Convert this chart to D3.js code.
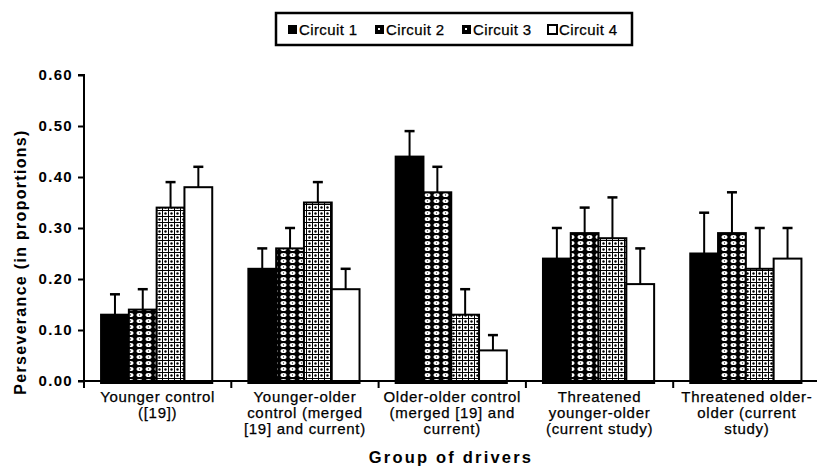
<!DOCTYPE html>
<html><head><meta charset="utf-8">
<script src="https://cdn.jsdelivr.net/npm/d3@7"></script>
<style>html,body{margin:0;padding:0;background:#fff;}svg{display:block;font-family:"Liberation Sans",Arial,sans-serif;}</style>
</head><body>
<script>
const categories = ["Younger control ([19])","Younger-older control (merged [19] and current)","Older-older control (merged [19] and current)","Threatened younger-older (current study)","Threatened older-older (current study)"];
const categoryLines = [["Younger control","([19])"],["Younger-older","control (merged","[19] and current)"],["Older-older control","(merged [19] and","current)"],["Threatened","younger-older","(current study)"],["Threatened older-","older (current","study)"]];
const seriesNames = ["Circuit 1","Circuit 2","Circuit 3","Circuit 4"];
const circuit1 = [0.13,0.22,0.44,0.24,0.25];
const circuit2 = [0.14,0.26,0.37,0.29,0.29];
const circuit3 = [0.34,0.35,0.13,0.28,0.22];
const circuit4 = [0.38,0.18,0.06,0.19,0.24];
const err1 = [0.04,0.04,0.05,0.06,0.08];
const err2 = [0.04,0.04,0.05,0.05,0.08];
const err3 = [0.05,0.04,0.05,0.08,0.08];
const err4 = [0.04,0.04,0.03,0.07,0.06];
const yTicks = [0,0.1,0.2,0.3,0.4,0.5,0.6];

const values = [circuit1,circuit2,circuit3,circuit4];
const errs = [err1,err2,err3,err4];

const W=817,H=469;
const svg=d3.select("body").append("svg").attr("width",W).attr("height",H);
const defs=svg.append("defs");
const p2=defs.append("pattern").attr("id","pat2").attr("patternUnits","userSpaceOnUse").attr("width",9).attr("height",6);
p2.append("rect").attr("width",9).attr("height",6).attr("fill","#000");
p2.append("ellipse").attr("cx",4.5).attr("cy",3).attr("rx",3).attr("ry",2).attr("fill","#fff");
p2.append("rect").attr("x",4).attr("y",2.5).attr("width",1).attr("height",1).attr("fill","#000");
const p3=defs.append("pattern").attr("id","pat3").attr("patternUnits","userSpaceOnUse").attr("width",6).attr("height",6);
p3.append("rect").attr("width",6).attr("height",6).attr("fill","#fff");
p3.append("rect").attr("x",0).attr("y",0).attr("width",1).attr("height",6).attr("fill","#000");
p3.append("rect").attr("x",0).attr("y",0).attr("width",6).attr("height",1).attr("fill","#000");
p3.append("circle").attr("cx",3.5).attr("cy",3.5).attr("r",1.2).attr("fill","#000");
const fills=["#000","url(#pat2)","url(#pat3)","#fff"];

const mLeft=84, mRight=820.5, mTop=75, mBottom=381;
const x0=d3.scaleBand().domain(categories).range([mLeft,mRight]).paddingInner(0).paddingOuter(0);
const x1=d3.scaleBand().domain(seriesNames).range([0,x0.bandwidth()]).paddingInner(0).paddingOuter(0.65);
const y=d3.scaleLinear().domain([0,0.6]).range([mBottom,mTop]);

const g=svg.append("g");
categories.forEach((c,ci)=>{
  seriesNames.forEach((s,si)=>{
    const v=values[si][ci], e=errs[si][ci];
    const bx=x0(c)+x1(s)-1, bw=x1.bandwidth();
    const cx=bx+bw/2;
    g.append("line").attr("x1",cx).attr("x2",cx).attr("y1",y(v)).attr("y2",y(v+e)).attr("stroke","#000").attr("stroke-width",2);
    g.append("line").attr("x1",cx-5).attr("x2",cx+5).attr("y1",y(v+e)).attr("y2",y(v+e)).attr("stroke","#000").attr("stroke-width",2.5);
    g.append("rect").attr("x",bx).attr("y",y(v)).attr("width",bw).attr("height",mBottom-y(v)+2).attr("fill",fills[si]).attr("stroke","#000").attr("stroke-width",2);
  });
});

const ya=svg.append("g").attr("transform",`translate(${mLeft},0)`).call(d3.axisLeft(y).tickValues(yTicks).tickFormat(d3.format(".2f")).tickSize(6).tickPadding(5));
ya.select(".domain").attr("stroke-width",2).attr("d",`M-6,${mTop}H0V${mBottom}`);
ya.selectAll(".tick line").attr("stroke-width",2);
ya.selectAll("text").attr("font-size",15).attr("font-weight","bold").attr("fill","#000").attr("letter-spacing",1.3).attr("font-family","Liberation Sans, Arial, sans-serif");

const xa=svg.append("g").attr("transform",`translate(0,${mBottom})`);
xa.append("line").attr("x1",mLeft-6).attr("x2",mRight+10).attr("y1",0).attr("y2",0).attr("stroke","#000").attr("stroke-width",2);
const bounds=categories.map(c=>x0(c)).concat([mRight]);
xa.selectAll(".bt").data(bounds).join("line").attr("x1",d=>d).attr("x2",d=>d).attr("y1",0).attr("y2",7).attr("stroke","#000").attr("stroke-width",2);
categories.forEach((c,ci)=>{
  const t=xa.append("text").attr("x",x0(c)+x0.bandwidth()/2).attr("y",21).attr("text-anchor","middle").attr("font-size",15).attr("letter-spacing",0.7).attr("fill","#000").attr("stroke","#000").attr("stroke-width",0.25);
  categoryLines[ci].forEach((l,li)=>t.append("tspan").attr("x",x0(c)+x0.bandwidth()/2).attr("dy",li?16:0).text(l));
});
svg.append("text").attr("x",451).attr("y",463).attr("text-anchor","middle").attr("font-size",16.5).attr("font-weight","bold").attr("letter-spacing",2.2).text("Group of drivers");
svg.append("text").attr("transform",`translate(26,262) rotate(-90)`).attr("text-anchor","middle").attr("font-size",16).attr("font-weight","bold").attr("letter-spacing",1.3).text("Perseverance (in proportions)");

const lg=svg.append("g");
lg.append("rect").attr("x",276).attr("y",13).attr("width",356).attr("height",32).attr("fill","#fff").attr("stroke","#000").attr("stroke-width",2.5);
const lx=[288,375,462,548];
seriesNames.forEach((s,i)=>{
  lg.append("rect").attr("x",lx[i]).attr("y",25).attr("width",9).attr("height",9).attr("fill",i==3?"#fff":"#000").attr("stroke","#000").attr("stroke-width",i==3?2:0);
  if(i==1||i==2) lg.append("rect").attr("x",lx[i]+3).attr("y",28).attr("width",2).attr("height",2).attr("fill","#fff");
  lg.append("text").attr("x",lx[i]+11).attr("y",35).attr("font-size",15).attr("letter-spacing",0.4).attr("stroke","#000").attr("stroke-width",0.25).text(s);
});
</script>
</body></html>
